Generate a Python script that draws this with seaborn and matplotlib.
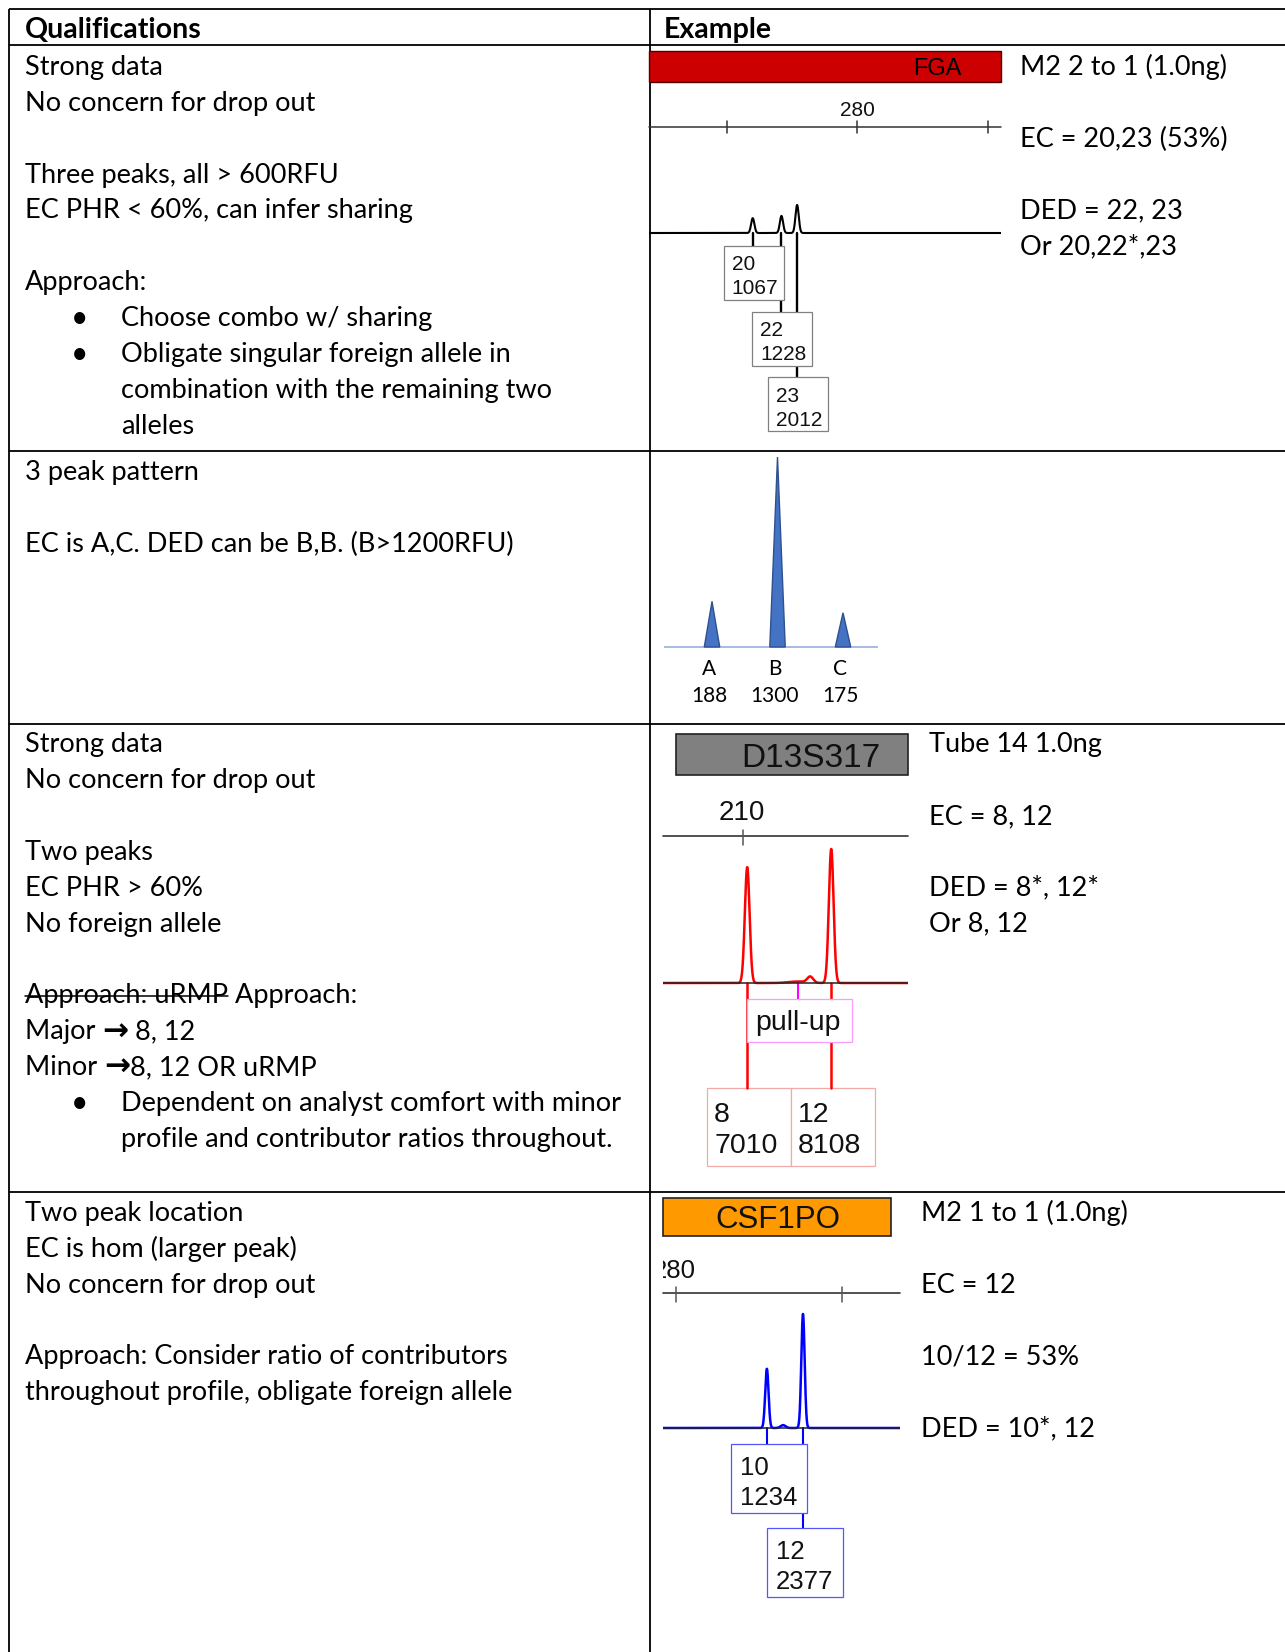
import numpy as np
import matplotlib
matplotlib.use("Agg")
import matplotlib.pyplot as plt
from matplotlib.patches import Rectangle
from matplotlib.transforms import Bbox
import seaborn as sns

W, H = 1285, 1652

# ---- values ----
# row 1: FGA, three peaks
fga_alleles = ["20", "22", "23"]
fga_size = [264.0, 268.4, 270.8]          # bp
fga_rfu = [1067, 1228, 2012]
fga_ticks = [260, 280, 300]
fga_tick_label = 280

# row 2: schematic 3 peak pattern
abc_labels = ["A", "B", "C"]
abc_rfu = [188, 1300, 175]
abc_drawn = [0.24, 1.0, 0.18]             # triangle heights as drawn (relative to B)

# row 3: D13S317
d13_alleles = ["8", "12"]
d13_size = [210.8, 226.8]
d13_rfu = [7010, 8108]
d13_pullup_call = 220.5
d13_pullup_size = 222.8
d13_pullup_rfu = 360
d13_ticks = [210]

# row 4: CSF1PO
csf_alleles = ["10", "12"]
csf_size = [301.9, 310.6]
csf_rfu = [1234, 2377]
csf_minor_size = 305.8
csf_minor_rfu = 60
csf_ticks = [280, 320]

# ---- table text ----
qual_row1 = [("", "Strong data"), ("", "No concern for drop out"), None,
             ("", "Three peaks, all > 600RFU"), ("", "EC PHR < 60%, can infer sharing"), None,
             ("", "Approach:"), ("bullet", "Choose combo w/ sharing"),
             ("bullet", "Obligate singular foreign allele in"),
             ("cont", "combination with the remaining two"), ("cont", "alleles")]
qual_row2 = [("", "3 peak pattern"), None, ("", "EC is A,C. DED can be B,B. (B>1200RFU)")]
qual_row3 = [("", "Strong data"), ("", "No concern for drop out"), None,
             ("", "Two peaks"), ("", "EC PHR > 60%"), ("", "No foreign allele"), None,
             ("strike", "Approach: uRMP"), ("", "Major \u2192 8, 12"), ("", "Minor \u21928, 12 OR uRMP"),
             ("bullet", "Dependent on analyst comfort with minor"),
             ("cont", "profile and contributor ratios throughout.")]
qual_row4 = [("", "Two peak location"), ("", "EC is hom (larger peak)"), ("", "No concern for drop out"), None,
             ("", "Approach: Consider ratio of contributors"),
             ("", "throughout profile, obligate foreign allele")]

notes_row1 = ["M2 2 to 1 (1.0ng)", None, "EC = 20,23 (53%)", None, "DED = 22, 23", "Or 20,22*,23"]
notes_row3 = ["Tube 14 1.0ng", None, "EC = 8, 12", None, "DED = 8*, 12*", "Or 8, 12"]
notes_row4 = ["M2 1 to 1 (1.0ng)", None, "EC = 12", None, "10/12 = 53%", None, "DED = 10*, 12"]

sns.set_theme(style="white")
plt.rcParams["font.family"] = ["Lato", "DejaVu Sans"]
ARIAL = ["Liberation Sans", "DejaVu Sans"]
INK = "black"
BODY = 19.5
LINE = 35.9
HALF_CAP = 9.5

fig = plt.figure(figsize=(W / 100, H / 100), dpi=100)
page = fig.add_axes([0, 0, 1, 1])
page.set_xlim(0, W)
page.set_ylim(H, 0)
page.set_axis_off()
renderer = fig.canvas.get_renderer()


def add_panel(left, right, top, bottom, x_left, px_per_x, base_y, px_per_y):
    """Axes placed on the page in pixels, with data limits in bp / RFU."""
    ax = fig.add_axes([left / W, 1 - bottom / H, (right - left) / W, (bottom - top) / H])
    ax.set_facecolor("none")
    ax.set_axis_off()
    ax._lims = ((x_left, x_left + (right - left) / px_per_x),
                (-(bottom - base_y) / px_per_y, (base_y - top) / px_per_y))
    fix_limits(ax)
    return ax


def fix_limits(ax):
    ax.set_xlim(*ax._lims[0])
    ax.set_ylim(*ax._lims[1])


def to_page(ax, x, y=0):
    px, py = ax.transData.transform((x, y))
    return px, H - py


def draw_trace(ax, sizes, heights, sigmas, color, lw):
    xs = np.linspace(*ax._lims[0], 3000)
    ys = np.zeros_like(xs)
    for s, h, sd in zip(sizes, heights, sigmas):
        ys += h * np.exp(-0.5 * ((xs - s) / sd) ** 2)
    sns.lineplot(x=xs, y=ys, ax=ax, color=color, lw=lw, estimator=None, sort=False)
    fix_limits(ax)


def put_text(x, y, text):
    """Body text; the arrow glyph is drawn heavier like the Word original."""
    if "\u2192" not in text:
        return page.text(x, y, text, size=BODY, color=INK, va="baseline")
    head, tail = text.split("\u2192")
    t = page.text(x, y, head, size=BODY, color=INK, va="baseline")
    x = t.get_window_extent(renderer).x1
    t = page.text(x, y + 1, "\u2192", size=BODY + 3, color=INK, va="baseline",
                  family="DejaVu Sans", weight="bold")
    x = t.get_window_extent(renderer).x1
    return page.text(x, y, tail, size=BODY, color=INK, va="baseline")


def write_lines(x, y0, lines):
    for i, line in enumerate(lines):
        if line is None:
            continue
        y = y0 + i * LINE + HALF_CAP
        kind, text = line if isinstance(line, tuple) else ("", line)
        if kind == "bullet":
            page.text(80, y + 1, "\u2022", size=BODY + 2, color=INK, ha="center", va="baseline")
            put_text(121, y, text)
        elif kind == "cont":
            put_text(121, y, text)
        elif kind == "strike":
            t = put_text(x, y, text)
            bb = t.get_window_extent(renderer)
            page.plot([bb.x0, bb.x1], [y - 7, y - 7], color=INK, lw=1.1)
            page.text(bb.x1, y, " Approach:", size=BODY, color=INK, va="baseline")
        else:
            put_text(x, y, text)


# ---- table grid ----
GRID = dict(color="black", lw=1.3, solid_capstyle="butt")
for y in [9, 45, 451, 723.5, 1192]:
    page.plot([9, W], [y, y], **GRID)
for x in [9, 650]:
    page.plot([x, x], [9, H], **GRID)

page.text(25, 28.5 + HALF_CAP, "Qualifications", size=20.5, weight="bold", color=INK, va="baseline")
page.text(664, 28.5 + HALF_CAP, "Example", size=20.5, weight="bold", color=INK, va="baseline")

write_lines(25, 65.3, qual_row1)
write_lines(25, 470.8, qual_row2)
write_lines(25, 742.6, qual_row3)
write_lines(25, 1211.3, qual_row4)
write_lines(1020, 65.3, notes_row1)
write_lines(929, 742.6, notes_row3)
write_lines(921, 1211.3, notes_row4)

# ---- row 1: FGA ----
page.add_patch(Rectangle((649, 51), 352, 31, fc="#CC0000", ec="#4d0000", lw=1, zorder=2))
page.text(937, 75, "FGA", family=ARIAL, size=17, ha="center", va="baseline", color="black", zorder=3)
ax_fga = add_panel(649, 1001, 190, 240, 248.1, 6.525, 233, 28 / 2012)
draw_trace(ax_fga, fga_size, fga_rfu, [0.25] * 3, "black", 1.5)
page.plot([649, 1001], [127, 127], color="#333333", lw=1.1)
for tick in fga_ticks:
    tx, _ = to_page(ax_fga, tick)
    page.plot([tx, tx], [121, 133], color="#333333", lw=1.1)
tx, _ = to_page(ax_fga, fga_tick_label)
page.text(tx, 116, str(fga_tick_label), family=ARIAL, size=15, ha="center", va="baseline", color="#111111")
for allele, size, rfu, top in zip(fga_alleles, fga_size, fga_rfu, [246, 312, 377]):
    px, base = to_page(ax_fga, size)
    page.plot([px, px], [base, top], color="black", lw=1.7, zorder=3)
    page.add_patch(Rectangle((px - 29, top), 60, 54, fc="white", ec="#808080", lw=0.9, zorder=4))
    page.text(px - 21, top + 24.5, allele, family=ARIAL, size=15, color="#111111", va="baseline", zorder=5)
    page.text(px - 21, top + 48.5, str(rfu), family=ARIAL, size=15, color="#111111", va="baseline", zorder=5)

# ---- row 2: schematic triangles ----
ax_abc = add_panel(664, 878, 440, 652, -0.733, 65.5, 647, 190)
ax_abc.axhline(0, color="#8FAADC", lw=1.1)
for i, (lab, rfu, h) in enumerate(zip(abc_labels, abc_rfu, abc_drawn)):
    ax_abc.fill([i - 0.118, i, i + 0.118], [0, h, 0], fc="#4472C4", ec="#2F528F", lw=1, zorder=3)
    px, _ = to_page(ax_abc, i)
    page.text(px - 3, 675, lab, size=15, color=INK, ha="center", va="baseline")
    page.text(px - 3, 702, str(rfu), size=15, color=INK, ha="center", va="baseline")
fix_limits(ax_abc)

# ---- row 3: D13S317 ----
page.add_patch(Rectangle((676, 734), 232, 41, fc="#808080", ec="#222222", lw=1.2, zorder=2))
page.text(811, 767, "D13S317", family=ARIAL, size=24, ha="center", va="baseline", color="#111111")
ax_d13 = add_panel(663, 908, 840, 990, 194.76, 5.25, 983, 134 / 8108)
draw_trace(ax_d13, d13_size + [d13_pullup_size, d13_pullup_call],
           d13_rfu + [d13_pullup_rfu, 90], [0.45, 0.45, 0.55, 1.8], "#FF0000", 1.8)
ax_d13.axhline(0, color="#222222", lw=1.1, zorder=3)
page.plot([663, 908], [836, 836], color="#333333", lw=1.2)
for tick in d13_ticks:
    tx, _ = to_page(ax_d13, tick)
    page.plot([tx, tx], [830, 845], color="#555555", lw=1.1)
    page.text(tx - 1, 820, str(tick), family=ARIAL, size=20, ha="center", va="baseline", color="#111111")
px, base = to_page(ax_d13, d13_pullup_call)
page.plot([px, px], [base, 999], color="#FF00FF", lw=1.5, zorder=3)
page.add_patch(Rectangle((px - 51, 999), 105, 43, fc="white", ec="#FF99FF", lw=0.9, zorder=4))
page.text(px + 0, 1030, "pull-up", family=ARIAL, size=20.5, ha="center", va="baseline", color="#111111", zorder=5)
for allele, size, rfu in zip(d13_alleles, d13_size, d13_rfu):
    px, base = to_page(ax_d13, size)
    page.plot([px, px], [base, 1088], color="#FF0000", lw=1.8, zorder=3)
    page.add_patch(Rectangle((px - 40, 1088), 84, 78, fc="white", ec="#F4A9A9", lw=0.9, zorder=2))
    page.text(px - 33, 1122, allele, family=ARIAL, size=20.5, color="#111111", va="baseline", zorder=5)
    page.text(px - 33, 1153, str(rfu), family=ARIAL, size=20.5, color="#111111", va="baseline", zorder=5)

# ---- row 4: CSF1PO ----
page.add_patch(Rectangle((663, 1198), 228, 38, fc="#FF9900", ec="#222222", lw=1.2, zorder=2))
page.text(778, 1228, "CSF1PO", family=ARIAL, size=22.5, ha="center", va="baseline", color="#111111")
ax_csf = add_panel(663, 900, 1300, 1435, 276.87, 4.15, 1428, 114 / 2377)
draw_trace(ax_csf, csf_size + [csf_minor_size], csf_rfu + [csf_minor_rfu], [0.4, 0.4, 0.6], "#0000FF", 1.8)
ax_csf.axhline(0, color="#222222", lw=1.1, zorder=3)
page.plot([663, 900], [1293, 1293], color="#333333", lw=1.2)
for tick in csf_ticks:
    tx, _ = to_page(ax_csf, tick)
    page.plot([tx, tx], [1287, 1302], color="#555555", lw=1.1)
tx, _ = to_page(ax_csf, csf_ticks[0])
lab = page.text(tx - 2, 1278, str(csf_ticks[0]), family=ARIAL, size=18.5, ha="center", va="baseline", color="#111111")
lab.set_clip_box(Bbox.from_extents(663, 0, W, H))
lab.set_clip_on(True)
for allele, size, rfu, top in zip(csf_alleles, csf_size, csf_rfu, [1444, 1528]):
    px, base = to_page(ax_csf, size)
    page.plot([px, px], [base, top], color="#0000FF", lw=1.5, zorder=3)
    page.add_patch(Rectangle((px - 36, top), 76, 69, fc="white", ec="#5555FF", lw=0.9, zorder=4))
    page.text(px - 27, top + 31, allele, family=ARIAL, size=18.5, color="#111111", va="baseline", zorder=5)
    page.text(px - 27, top + 61, str(rfu), family=ARIAL, size=18.5, color="#111111", va="baseline", zorder=5)

fig.savefig("out.png", dpi=100, facecolor="white")
